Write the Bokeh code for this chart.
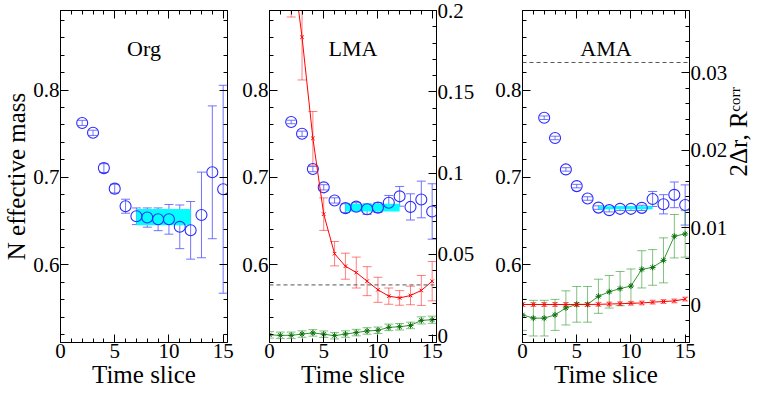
import math
from bokeh.plotting import figure
from bokeh.layouts import row
from bokeh.models import (LinearAxis, Range1d, FixedTicker, CustomJSTickFormatter,
                          ColumnDataSource, Whisker, TeeHead, Span, Label)
from bokeh.embed import file_html
from bokeh.resources import INLINE

FONT = "Liberation Serif"

# ---------------- data ----------------
x_major_ticks = [0, 5, 10, 15]
x_minor_ticks = list(range(0, 16))
left_major_ticks = [0.6, 0.7, 0.8]
left_minor_ticks = [0.52, 0.54, 0.56, 0.58, 0.60, 0.62, 0.64, 0.66, 0.68, 0.70,
                    0.72, 0.74, 0.76, 0.78, 0.80, 0.82, 0.84, 0.86, 0.88]
lma_right_major = [0, 0.05, 0.1, 0.15, 0.2]
lma_right_minor = [0, 0.01, 0.02, 0.03, 0.04, 0.05, 0.06, 0.07, 0.08, 0.09, 0.10,
                   0.11, 0.12, 0.13, 0.14, 0.15, 0.16, 0.17, 0.18, 0.19, 0.20]
ama_right_major = [0, 0.01, 0.02, 0.03]
ama_right_minor = [-0.004, -0.002, 0, 0.002, 0.004, 0.006, 0.008, 0.010, 0.012, 0.014,
                   0.016, 0.018, 0.020, 0.022, 0.024, 0.026, 0.028, 0.030, 0.032,
                   0.034, 0.036]

t_mass = [2, 3, 4, 5, 6, 7, 8, 9, 10, 11, 12, 13, 14, 15]
t_all = [0, 1, 2, 3, 4, 5, 6, 7, 8, 9, 10, 11, 12, 13, 14, 15]

# Org
org_mass = [0.7623, 0.7510, 0.7106, 0.6871, 0.6670, 0.6555, 0.6540, 0.6520,
            0.6520, 0.6434, 0.6394, 0.6570, 0.7058, 0.6864]
org_mass_err = [0.003, 0.003, 0.005, 0.005, 0.008, 0.0095, 0.011, 0.013,
                0.017, 0.025, 0.033, 0.049, 0.076, 0.119]
org_fit_range = [7, 12]
org_fit_value = 0.6545
org_fit_err = 0.0092

# LMA
lma_mass = [0.7634, 0.7499, 0.7095, 0.6886, 0.6736, 0.6648, 0.6665, 0.6636,
            0.6654, 0.6709, 0.6783, 0.6662, 0.6747, 0.6610]
lma_mass_err = [0.002, 0.003, 0.003, 0.003, 0.003, 0.005, 0.0046, 0.006,
                0.0055, 0.0084, 0.0113, 0.015, 0.021, 0.0317]
lma_fit_range = [7, 12]
lma_fit_value = 0.6654
lma_fit_err = 0.0044
lma_red_t = [2, 3, 4, 5, 6, 7, 8, 9, 10, 11, 12, 13, 14, 15]
lma_red = [0.236, 0.1836, 0.1214, 0.0748, 0.0505, 0.0428, 0.0389, 0.0336,
           0.0283, 0.0244, 0.0233, 0.0248, 0.0279, 0.0336]
lma_red_err = [0.04, 0.0263, 0.0165, 0.010, 0.0075, 0.008, 0.0095, 0.0089,
               0.0077, 0.005, 0.0045, 0.0057, 0.0092, 0.0121]
lma_green = [0.0006, 0.0003, 0.0003, 0.0011, 0.0018, 0.0010, 0.0001, 0.0011,
             0.0020, 0.0030, 0.0034, 0.0052, 0.0056, 0.0064, 0.0095, 0.0099]
lma_green_err = [0.002, 0.002, 0.002, 0.002, 0.002, 0.002, 0.002, 0.002,
                 0.002, 0.002, 0.002, 0.002, 0.002, 0.002, 0.0022, 0.0022]
lma_dashed = 0.0313

# AMA
ama_mass = [0.7683, 0.7451, 0.7091, 0.6900, 0.6758, 0.6654, 0.6625, 0.6640,
            0.6640, 0.6651, 0.6753, 0.6692, 0.6800, 0.6684]
ama_mass_err = [0.002, 0.002, 0.002, 0.002, 0.002, 0.002, 0.002, 0.002,
                0.002, 0.003, 0.0086, 0.011, 0.0147, 0.023]
ama_fit_range = [7, 12]
ama_fit_value = 0.6653
ama_fit_err = 0.0017
ama_red = [0.0001, 0.0001, 0.0001, 0.0001, 0.0001, 0.0001, 0.0001, 0.00012,
           0.00016, 0.0002, 0.00025, 0.0003, 0.0004, 0.00048, 0.00056, 0.0008]
ama_red_err = [0.00025] * 16
ama_green = [-0.00124, -0.00166, -0.00166, -0.00124, -0.00034, 0.00012, 0.00012,
             0.00116, 0.00174, 0.00215, 0.00248, 0.00463, 0.00488, 0.00579,
             0.0089, 0.0092]
ama_green_err = [0.002, 0.0023, 0.0023, 0.002, 0.0022, 0.0023, 0.0023, 0.0022,
                 0.0021, 0.0022, 0.0022, 0.0024, 0.0023, 0.0029, 0.0028, 0.003]
ama_dashed = 0.0313

titles = ["Org", "LMA", "AMA"]
x_label = "Time slice"
y_label = "N effective mass"
y2_label = "2Δr, Rᶜᵒʳʳ"

# ---------------- styling helpers ----------------
FW, FH = 167, 332
BLUE = "#2b2bff"
BLUE_ERR = "#5a5aff"
RED = "#ff0000"
GREEN = "#2a9a2a"
GREEN_DARK = "#0e6e0e"

num_fmt = "return Number(tick.toFixed(4)).toString();"


def style_axis(ax, labels=True, label_text=None):
    ax.axis_line_color = "black"
    ax.axis_line_width = 1
    ax.major_tick_in = 8
    ax.major_tick_out = 0
    ax.minor_tick_in = 4
    ax.minor_tick_out = 0
    ax.major_tick_line_color = "black"
    ax.minor_tick_line_color = "black"
    ax.major_label_text_font = FONT
    ax.major_label_text_color = "black"
    if labels:
        ax.major_label_text_font_size = "21px"
        ax.formatter = CustomJSTickFormatter(code=num_fmt)
        ax.major_label_standoff = 1
    else:
        ax.major_label_text_font_size = "0px"
        ax.formatter = CustomJSTickFormatter(code="return '';")
        ax.major_label_standoff = 0
    if label_text:
        ax.axis_label = label_text
        ax.axis_label_text_font = FONT
        ax.axis_label_text_font_size = "25px"
        ax.axis_label_text_font_style = "normal"
        ax.axis_label_text_color = "black"
        ax.axis_label_standoff = 0


def make_fig(mb_left, mb_right):
    p = figure(frame_width=FW, frame_height=FH,
               x_range=Range1d(0, 15.4), y_range=Range1d(0.511, 0.891),
               output_backend="svg", toolbar_location=None,
               min_border_left=mb_left, min_border_right=mb_right,
               min_border_top=10, min_border_bottom=0)
    p.xgrid.visible = False
    p.ygrid.visible = False
    p.outline_line_color = "black"
    p.background_fill_color = "white"
    p.border_fill_color = "white"
    p.xaxis.ticker = FixedTicker(ticks=x_major_ticks, minor_ticks=x_minor_ticks)
    p.yaxis.ticker = FixedTicker(ticks=left_major_ticks, minor_ticks=left_minor_ticks)
    style_axis(p.xaxis[0], True, x_label)
    top = LinearAxis(ticker=FixedTicker(ticks=x_major_ticks, minor_ticks=x_minor_ticks))
    style_axis(top, False)
    p.add_layout(top, "above")
    return p


def add_err(p, xs, ys, es, color, alpha, head, range_name=None):
    src = ColumnDataSource(dict(x=xs,
                                lo=[y - e for y, e in zip(ys, es)],
                                hi=[y + e for y, e in zip(ys, es)]))
    kw = dict(line_color=color, line_alpha=alpha, line_width=1)
    w = Whisker(source=src, base="x", lower="lo", upper="hi", dimension="height",
                upper_head=TeeHead(size=head, **kw), lower_head=TeeHead(size=head, **kw),
                **kw)
    if range_name:
        w.y_range_name = range_name
    p.add_layout(w)


def add_mass(p, ys, es, fit_range, fit_value, fit_err):
    p.quad(left=[fit_range[0]], right=[fit_range[1]],
           bottom=[fit_value - fit_err], top=[fit_value + fit_err],
           fill_color="#00ffff", line_color=None)
    add_err(p, t_mass, ys, es, BLUE_ERR, 0.85, 9)
    p.scatter(t_mass, ys, marker="circle", size=11, fill_color=None,
              line_color=BLUE, line_width=1.1)


def add_title(p, text):
    p.add_layout(Label(x=7.7, y=0.847, text=text, text_align="center",
                       text_baseline="alphabetic", text_font=FONT,
                       text_font_size="22px", text_color="black"))


# ---------------- Org ----------------
p1 = make_fig(0, 12)
style_axis(p1.yaxis[0], True, y_label)
r1 = LinearAxis(ticker=FixedTicker(ticks=left_major_ticks, minor_ticks=left_minor_ticks))
style_axis(r1, False)
p1.add_layout(r1, "right")
add_mass(p1, org_mass, org_mass_err, org_fit_range, org_fit_value, org_fit_err)
add_title(p1, titles[0])

# ---------------- LMA ----------------
p2 = make_fig(0, 56)
style_axis(p2.yaxis[0], True)
p2.extra_y_ranges = {"r": Range1d(-0.0041, 0.2)}
r2 = LinearAxis(y_range_name="r",
                ticker=FixedTicker(ticks=lma_right_major, minor_ticks=lma_right_minor))
style_axis(r2, True)
p2.add_layout(r2, "right")
p2.add_layout(Span(location=lma_dashed, dimension="width", y_range_name="r",
                   line_dash="4 3", line_color="#555555", line_width=1))
add_mass(p2, lma_mass, lma_mass_err, lma_fit_range, lma_fit_value, lma_fit_err)
add_err(p2, lma_red_t, lma_red, lma_red_err, RED, 0.5, 9, "r")
p2.line(lma_red_t, lma_red, line_color=RED, line_width=1, y_range_name="r")
p2.scatter(lma_red_t, lma_red, marker="x", size=5, line_color=RED, y_range_name="r")
add_err(p2, t_all, lma_green, lma_green_err, GREEN, 0.6, 9, "r")
p2.line(t_all, lma_green, line_color=GREEN, line_width=1, y_range_name="r")
p2.scatter(t_all, lma_green, marker="asterisk", size=6, line_color=GREEN_DARK,
           line_width=1, y_range_name="r")
add_title(p2, titles[1])

# ---------------- AMA ----------------
p3 = make_fig(0, 0)
style_axis(p3.yaxis[0], True)
p3.extra_y_ranges = {"r": Range1d(-0.0048, 0.038)}
r3 = LinearAxis(y_range_name="r",
                ticker=FixedTicker(ticks=ama_right_major, minor_ticks=ama_right_minor))
style_axis(r3, True, y2_label)
if "axis_label_orientation" in r3.properties():
    r3.axis_label_orientation = math.pi / 2
r3.axis_label_standoff = 8
p3.add_layout(r3, "right")
p3.add_layout(Span(location=ama_dashed, dimension="width", y_range_name="r",
                   line_dash="4 3", line_color="#555555", line_width=1))
add_mass(p3, ama_mass, ama_mass_err, ama_fit_range, ama_fit_value, ama_fit_err)
add_err(p3, t_all, ama_green, ama_green_err, GREEN, 0.6, 9, "r")
p3.line(t_all, ama_green, line_color=GREEN, line_width=1, y_range_name="r")
p3.scatter(t_all, ama_green, marker="asterisk", size=6, line_color=GREEN_DARK,
           line_width=1, y_range_name="r")
add_err(p3, t_all, ama_red, ama_red_err, RED, 0.5, 6, "r")
p3.line(t_all, ama_red, line_color=RED, line_width=1, y_range_name="r")
p3.scatter(t_all, ama_red, marker="x", size=5, line_color=RED, y_range_name="r")
add_title(p3, titles[2])

layout = row(p1, p2, p3, spacing=0)
open("out.html", "w").write(file_html(layout, INLINE))
